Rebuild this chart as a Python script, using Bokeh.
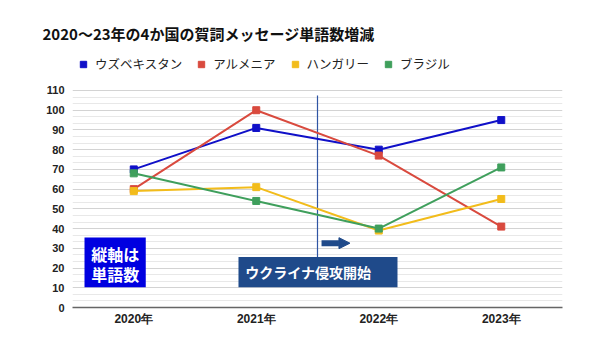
from bokeh.plotting import figure
from bokeh.models import (Range1d, FixedTicker, Label, BoxAnnotation, Arrow, NormalHead,
                          Legend, LegendItem)
from bokeh.embed import file_html
from bokeh.resources import INLINE

# ---- data ----
years = ["2020年", "2021年", "2022年", "2023年"]
series_names = ["ウズベキスタン", "アルメニア", "ハンガリー", "ブラジル"]
uzbekistan = [70, 91, 80, 95]
armenia = [60, 100, 77, 41]
hungary = [59, 61, 39, 55]
brazil = [68, 54, 40, 71]
y_ticks = [0, 10, 20, 30, 40, 50, 60, 70, 80, 90, 100, 110]
title_text = "2020～23年の4か国の賀詞メッセージ単語数増減"
note_lines = ["縦軸は", "単語数"]
event_text = "ウクライナ侵攻開始"

colors = ["#1010C8", "#D94A3E", "#F2BC1B", "#3F9F5C"]
CJK = "Noto Sans CJK JP"

xs = list(range(len(years)))

p = figure(width=600, height=337, output_backend="svg", toolbar_location=None,
           x_range=Range1d(-0.5, 3.5), y_range=Range1d(0, 132.8),
           min_border_left=72, min_border_right=38, min_border_top=45, min_border_bottom=30)
p.outline_line_color = None
p.background_fill_color = "white"
p.border_fill_color = "white"

# title
p.title.text = title_text
p.title.align = "left"
p.title.offset = -30
p.title.standoff = 3
p.title.vertical_align = "bottom"
p.title.text_font = CJK
p.title.text_font_style = "bold"
p.title.text_font_size = "15px"
p.title.text_color = "#111111"

# axes
minor = []
for t in y_ticks[:-1]:
    minor += [t + 10 / 3, t + 20 / 3]
p.yaxis.ticker = FixedTicker(ticks=y_ticks, minor_ticks=minor)
p.yaxis.axis_line_color = None
p.yaxis.major_tick_line_color = None
p.yaxis.minor_tick_line_color = None
p.yaxis.major_tick_out = 0
p.yaxis.minor_tick_out = 0
p.yaxis.major_label_text_font = "Liberation Sans"
p.yaxis.major_label_text_font_style = "bold"
p.yaxis.major_label_text_font_size = "11px"
p.yaxis.major_label_text_color = "#222222"
p.yaxis.major_label_standoff = 8

p.xaxis.ticker = FixedTicker(ticks=xs)
p.xaxis.major_label_overrides = {i: y for i, y in zip(xs, years)}
p.xaxis.axis_line_color = "#666666"
p.xaxis.axis_line_width = 1.5
p.xaxis.major_tick_line_color = None
p.xaxis.minor_tick_line_color = None
p.xaxis.major_tick_out = 0
p.xaxis.minor_tick_out = 0
p.xaxis.major_label_text_font = "Liberation Sans"
p.xaxis.major_label_text_font_style = "bold"
p.xaxis.major_label_text_font_size = "12px"
p.xaxis.major_label_text_color = "#222222"
p.xaxis.major_label_standoff = 4

p.xgrid.grid_line_color = None
p.ygrid.grid_line_color = "#d3d3d3"
p.ygrid.grid_line_width = 1
p.ygrid.minor_grid_line_color = "#e8e8e8"
p.ygrid.minor_grid_line_width = 1

# boxes
p.add_layout(BoxAnnotation(left=-0.402, right=0.098, bottom=10.3, top=35.5,
                           fill_color="#0000E0", fill_alpha=1, line_color=None, level="underlay"))
p.add_layout(BoxAnnotation(left=0.855, right=2.153, bottom=10.3, top=25.6,
                           fill_color="#1F4A8A", fill_alpha=1, line_color=None, level="underlay"))

# invasion line and arrow
p.segment(x0=[1.5], y0=[25.6], x1=[1.5], y1=[107.5], line_color="#2F55A4", line_width=1.2)
p.add_layout(Arrow(end=NormalHead(size=11, fill_color="#1F4A8A", line_color="#1F4A8A"),
                   x_start=1.533, y_start=32.6, x_end=1.765, y_end=32.6,
                   line_color="#1F4A8A", line_width=6))

# series
items = []
for name, vals, c in zip(series_names, [uzbekistan, armenia, hungary, brazil], colors):
    p.line(xs, vals, line_color=c, line_width=2)
    r = p.scatter(xs, vals, marker="square", size=7, fill_color=c, line_color=c)
    items.append(LegendItem(label=name, renderers=[r]))

legend = Legend(items=items, orientation="horizontal", location=(3, 234),
                label_text_font=CJK, label_text_font_size="12.5px", label_text_color="#222222",
                glyph_width=16, glyph_height=16, label_standoff=4, spacing=11,
                padding=0, margin=0, border_line_color=None, background_fill_alpha=0)
p.add_layout(legend, "center")

# texts
for txt, yy in zip(note_lines, [27.0, 16.9]):
    p.add_layout(Label(x=-0.152, y=yy, text=txt, text_font=CJK, text_font_style="bold",
                       text_font_size="16px", text_color="white", text_baseline="middle",
                       text_align="center"))
p.add_layout(Label(x=0.91, y=17.9, text=event_text, text_font=CJK, text_font_style="bold",
                   text_font_size="14px", text_color="white", text_baseline="middle"))

open("out.html", "w").write(file_html(p, INLINE))
